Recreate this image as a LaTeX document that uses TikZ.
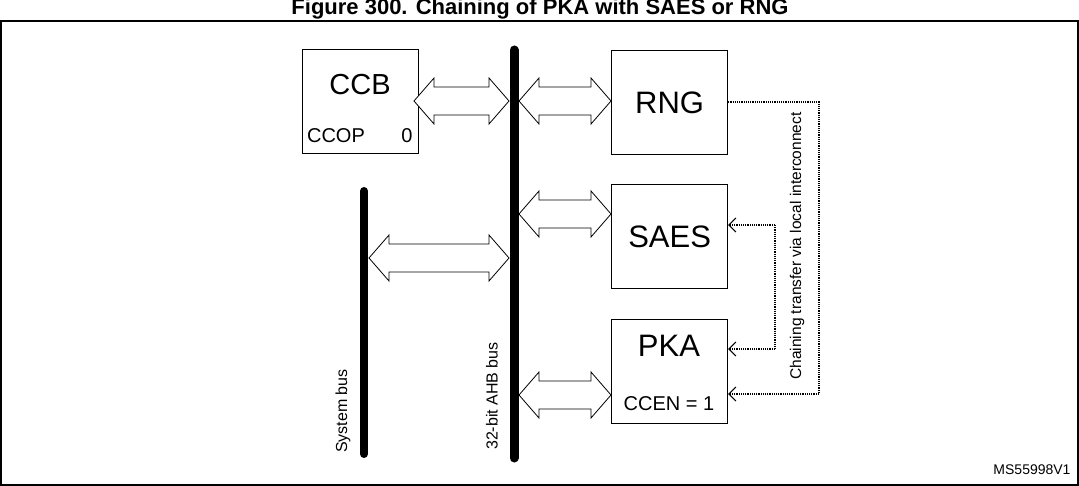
\documentclass[tikz,border=0pt]{standalone}
\usepackage{fontspec}
\setmainfont{Liberation Sans}
\usetikzlibrary{arrows.meta}
\begin{document}
\begin{tikzpicture}[x=1pt,y=-1pt,
  box/.style={draw,line width=1.2pt,minimum width=116pt,minimum height=104pt,anchor=north west,inner sep=0},
  bus/.style={line width=9pt,line cap=round},
  chain/.style={densely dotted,line width=1.2pt},
  tip/.style={chain,-{Straight Barb[length=7pt,width=14pt,line width=1pt]}},
  big/.style={font=\fontsize{29}{29}\selectfont},
  small/.style={font=\fontsize{20}{20}\selectfont},
  lbl/.style={rotate=90,font=\fontsize{16}{16}\selectfont}]
\useasboundingbox (0,0) rectangle (1079,486);
\begin{scope}
\clip (0,0) rectangle (1079,19);
\node[font=\bfseries\fontsize{22}{22}\selectfont,anchor=base] (title) at (540,15) {Figure 300. Chaining of PKA with SAES or RNG};
\end{scope}
\draw[line width=2pt] (0,21) -- (1079,21);
\draw[line width=1.2pt] (1,21) -- (1,485) -- (1078,485) -- (1078,21);
% boxes
\node[box] (ccb) at (302,49) {};
\node[big] (ccbt) at (360,85) {CCB};
\node[small] (ccop) at (336,136) {CCOP};
\node[small] (ccopv) at (407,136) {0};
\node[box] (rng) at (611,50) {};
\node[big,font=\fontsize{31}{31}\selectfont] at (rng.center) {RNG};
\node[box] (saes) at (611,184) {};
\node[big,font=\fontsize{31}{31}\selectfont] at (saes.center) {SAES};
\node[box] (pka) at (611,319) {};
\node[big,font=\fontsize{31}{31}\selectfont] (pkat) at (669,346) {PKA};
\node[small] (ccen) at (669,404) {CCEN = 1};
% buses
\coordinate (ahbT) at (514,50); \coordinate (ahbB) at (514,458);
\draw[bus] (ahbT) -- (ahbB);
\coordinate (sysT) at (364,191); \coordinate (sysB) at (364,454);
\draw[bus,line width=8pt] (sysT) -- (sysB);
\node[lbl] (syslbl) at (343,411) {System bus};
\node[lbl] (ahblbl) at (492,396) {32-bit AHB bus};
% double arrows
\newcommand\dbl[3]{%
 \draw[line width=0.8pt,fill=white] (#1,#3) -- ++(20,-23) -- ++(0,9) -- (#2-20,#3-14) -- ++(0,-9) -- (#2,#3) -- ++(-20,23) -- ++(0,-9) -- (#1+20,#3+14) -- ++(0,9) -- cycle;}
\dbl{414}{509}{101}
\dbl{519}{611}{101}
\dbl{519}{611}{214}
\dbl{369}{509}{258}
\dbl{519}{611}{395}
% chaining
\coordinate (o1) at (819,102); \coordinate (o2) at (819,394);
\coordinate (i1) at (775,225); \coordinate (i2) at (775,349);
\draw[chain] (rng.east |- o1) -- (o1) -- (o2);
\draw[tip] (o2) -- (pka.east |- o2);
\draw[tip] (i1 |- i2) -- (pka.east |- i2);
\draw[chain] (i1) -- (i2);
\draw[tip] (i1) -- (saes.east |- i1);
\node[lbl,font=\fontsize{15.5}{15.5}\selectfont] (chl) at (797,246) {Chaining transfer via local interconnect};
\node[font=\fontsize{14}{14}\selectfont] (ms) at (1032,470) {MS55998V1};
\end{tikzpicture}
\end{document}
